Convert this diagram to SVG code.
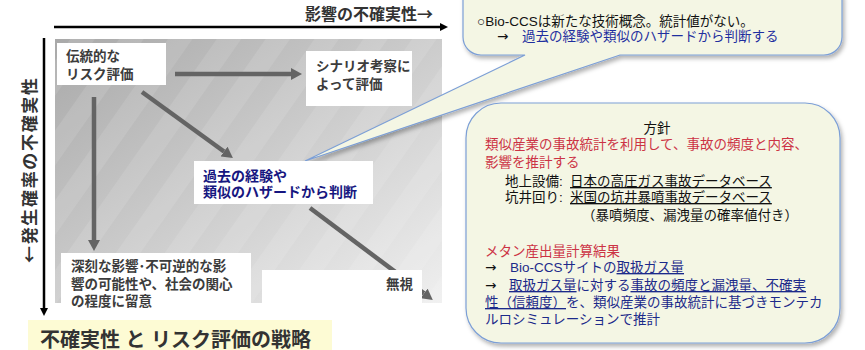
<svg xmlns="http://www.w3.org/2000/svg" width="865" height="350" viewBox="0 0 865 350">
<style>
text{font-family:"Liberation Sans","Noto Sans CJK JP",sans-serif;}
.cj{font-family:"Noto Sans CJK JP",sans-serif;}
.dv{font-family:"DejaVu Sans",sans-serif;fill:#111;}
.bx{fill:#ffffff;}
.bt{font-size:13.5px;font-weight:bold;fill:#3c3c3c;}
.nv{font-size:14px;font-weight:bold;fill:#161680;}
.arr{stroke:#646464;stroke-width:4.5;fill:none;marker-end:url(#ah);}
.ax{stroke:#000;stroke-width:2.5;fill:none;}
.co{fill:#f4f6e4;stroke:#7c9fd6;stroke-width:1.2;filter:url(#sh);}
.ct{font-size:13.5px;fill:#111;}
.bl{fill:#1f2f9f;}
.rd{fill:#cc3344;}
.nb{fill:#1c2a8a;}
.ul{text-decoration:underline;text-decoration-thickness:2px;}
</style>
<defs>
<linearGradient id="g" x1="0" y1="0" x2="1" y2="1">
<stop offset="0" stop-color="#a9a9a9"/>
<stop offset="1" stop-color="#efefef"/>
</linearGradient>
<pattern id="st" width="40" height="40" patternUnits="userSpaceOnUse" patternTransform="rotate(35)">
<rect x="0" y="0" width="20" height="40" fill="#ffffff" fill-opacity="0.10"/>
</pattern>
<marker id="ah" viewBox="0 0 11 12" refX="0" refY="6" markerWidth="11" markerHeight="12" markerUnits="userSpaceOnUse" orient="auto">
<path d="M0,0 L11,6 L0,12 z" fill="#646464"/>
</marker>
<marker id="ak" viewBox="0 0 8 8" refX="0" refY="4" markerWidth="8" markerHeight="8" markerUnits="userSpaceOnUse" orient="auto">
<path d="M0,0 L8,4 L0,8 z" fill="#000"/>
</marker>
<filter id="sh" x="-10%" y="-10%" width="120%" height="130%">
<feDropShadow dx="2" dy="3" stdDeviation="2" flood-color="#000" flood-opacity="0.3"/>
</filter>
</defs>
<rect width="865" height="350" fill="#ffffff"/>

<!-- background panel -->
<rect x="55" y="39" width="387" height="264" fill="url(#g)"/>
<rect x="55" y="39" width="387" height="264" fill="url(#st)"/>

<!-- axes -->
<g id="axes">
<line class="ax" x1="54" y1="27" x2="440" y2="27" marker-end="url(#ak)"/>
<line class="ax" x1="44" y1="38" x2="44" y2="308" marker-end="url(#ak)"/>
<text class="cj" x="433" y="20" text-anchor="end" font-size="16" font-weight="bold" fill="#333">影響の不確実性→</text>
<text class="cj" transform="translate(36,263) rotate(-90)" x="0" y="0" font-size="17" font-weight="bold" fill="#333" textLength="185" lengthAdjust="spacing">←発生確率の不確実性</text>
</g>

<!-- connectors -->
<g id="connectors">
<line class="arr" x1="175" y1="74" x2="291" y2="74"/>
<line class="arr" x1="94" y1="97" x2="94" y2="240"/>
<line class="arr" x1="142" y1="92" x2="224" y2="151.5"/>
<line class="arr" x1="310" y1="208" x2="424" y2="293.4"/>
</g>

<!-- callout 1 -->
<g id="callout1">
<path class="co" d="M481,-20 H824 A18,18 0 0 1 842,-2 V37 A18,18 0 0 1 824,55 H620 L305,161 L525,55 H481 A18,18 0 0 1 463,37 V-2 A18,18 0 0 1 481,-20 Z"/>
<text class="ct" x="477" y="26">○Bio-CCSは新たな技術概念。統計値がない。</text>
<text class="ct" x="497" y="41"><tspan class="dv">→</tspan><tspan class="bl" x="522">過去の経験や類似のハザードから判断する</tspan></text>
</g>

<!-- nodes -->
<g id="n1">
<rect class="bx" x="57" y="43" width="109" height="42"/>
<text class="bt" x="66" y="61">伝統的な</text>
<text class="bt" x="66" y="79">リスク評価</text>
</g>
<g id="n2">
<rect class="bx" x="306" y="51" width="106" height="55"/>
<text class="bt" x="316" y="71">シナリオ考察に</text>
<text class="bt" x="316" y="89">よって評価</text>
</g>
<g id="n3">
<rect class="bx" x="194" y="161" width="179" height="43"/>
<text class="nv" x="203" y="181">過去の経験や</text>
<text class="nv" x="203" y="197">類似のハザードから判断</text>
</g>
<g id="n4">
<rect class="bx" x="61" y="253" width="190" height="57"/>
<text class="bt" x="71" y="271">深刻な影響･不可逆的な影</text>
<text class="bt" x="71" y="289">響の可能性や、社会の関心</text>
<text class="bt" x="71" y="306">の程度に留意</text>
</g>
<g id="n5">
<rect class="bx" x="262" y="270" width="160" height="33"/>
<text class="bt" x="413" y="289" text-anchor="end" fill="#111">無視</text>
</g>

<!-- callout 2 -->
<g id="callout2">
<rect class="co" x="466" y="103" width="374" height="240" rx="35" ry="35"/>
<text class="ct" x="657" y="133" text-anchor="middle">方針</text>
<text class="ct rd" x="485" y="149">類似産業の事故統計を利用して、事故の頻度と内容、</text>
<text class="ct rd" x="485" y="167">影響を推計する</text>
<text class="ct" x="505" y="186">地上設備:<tspan class="ul" x="570">日本の高圧ガス事故データベース</tspan></text>
<text class="ct" x="505" y="202">坑井回り:<tspan class="ul" x="570">米国の坑井暴噴事故データベース</tspan></text>
<text class="ct" x="582" y="220">（暴噴頻度、漏洩量の確率値付き）</text>
<text class="ct rd" x="485" y="256">メタン産出量計算結果</text>
<text class="ct nb" x="485" y="272"><tspan class="dv">→</tspan><tspan x="510">Bio-CCSサイトの</tspan><tspan class="ul">取扱ガス量</tspan></text>
<text class="ct nb" x="485" y="290"><tspan class="dv">→</tspan><tspan class="ul" x="509">取扱ガス量</tspan>に対する<tspan class="ul">事故の頻度と漏洩量、不確実</tspan></text>
<text class="ct nb" x="485" y="307"><tspan class="ul">性（信頼度）</tspan>を、類似産業の事故統計に基づきモンテカ</text>
<text class="ct nb" x="485" y="324">ルロシミュレーションで推計</text>
</g>

<!-- title -->
<g id="title">
<rect x="28" y="320" width="304" height="32" fill="#fdfbd4"/>
<text x="40" y="347" font-size="20" font-weight="bold" fill="#333">不確実性 と リスク評価の戦略</text>
</g>
</svg>
